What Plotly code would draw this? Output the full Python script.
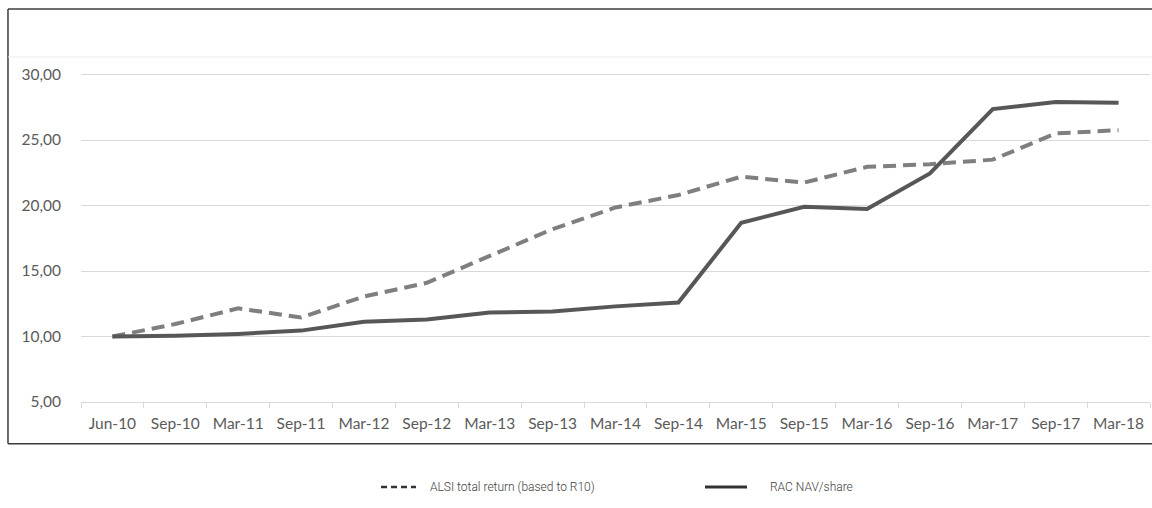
import plotly.graph_objects as go

# Quarter-end labels and index values (base R10)
periods = ["Jun-10", "Sep-10", "Mar-11", "Sep-11", "Mar-12", "Sep-12", "Mar-13",
           "Sep-13", "Mar-14", "Sep-14", "Mar-15", "Sep-15", "Mar-16", "Sep-16",
           "Mar-17", "Sep-17", "Mar-18"]
alsi_total_return = [10.00, 10.95, 12.15, 11.45, 13.05, 14.10, 16.15, 18.20, 19.85,
                     20.80, 22.20, 21.75, 22.95, 23.15, 23.50, 25.50, 25.75]
rac_nav_share = [10.00, 10.05, 10.20, 10.45, 11.12, 11.30, 11.83, 11.90, 12.30,
                 12.60, 18.68, 19.90, 19.73, 22.45, 27.36, 27.90, 27.84]

y_ticks = [5, 10, 15, 20, 25, 30]

legend_names = ["ALSI total return (based to R10)", "RAC NAV/share"]

fig = go.Figure()
fig.add_trace(go.Scatter(
    x=periods, y=alsi_total_return, mode="lines", name=legend_names[0],
    line=dict(color="#7f7f7f", width=4, dash="13px,7px"),
    showlegend=False,
))
fig.add_trace(go.Scatter(
    x=periods, y=rac_nav_share, mode="lines", name=legend_names[1],
    line=dict(color="#575757", width=4),
    showlegend=False,
))

axis_font = dict(family="Lato, Carlito, sans-serif", size=15.5, color="#5a5a5a")

fig.update_layout(
    width=1152, height=508,
    margin=dict(l=81, r=2, t=9, b=106),
    paper_bgcolor="white", plot_bgcolor="white",
    separators=",.",
    xaxis=dict(
        type="category", tickson="boundaries", ticks="outside", ticklen=5,
        tickcolor="#d9d9d9", showline=True, linecolor="#d9d9d9", linewidth=1,
        showgrid=False, tickfont=axis_font, ticklabelstandoff=7,
        range=[-0.5, len(periods) - 0.5], fixedrange=True,
    ),
    yaxis=dict(
        range=[5, 35], tickvals=y_ticks, tickformat=".2f",
        showgrid=True, gridcolor="#d9d9d9", gridwidth=1, zeroline=False,
        showline=False, ticks="", tickfont=axis_font, ticklabelstandoff=19,
        fixedrange=True,
    ),
)

# Outer frame around the chart (left, top and bottom edges)
frame = dict(color="#3c3c3c", width=1.5)
x_left, x_right, y_top, y_bot = -0.0683, 1.003, 1.0, -0.106
fig.add_shape(type="line", xref="paper", yref="paper", x0=x_left, x1=x_right,
              y0=y_top, y1=y_top, line=frame)
fig.add_shape(type="line", xref="paper", yref="paper", x0=x_left, x1=x_right,
              y0=y_bot, y1=y_bot, line=frame)
fig.add_shape(type="line", xref="paper", yref="paper", x0=x_left, x1=x_left,
              y0=y_bot, y1=y_top, line=frame)
# faint inner plot-area edge
fig.add_shape(type="line", xref="paper", yref="paper", x0=x_left, x1=x_right,
              y0=0.878, y1=0.878, line=dict(color="#ececec", width=1))

# Legend below the frame
legend_y = (402 - 487) / 393
legend_font = dict(family="Roboto, Liberation Sans, sans-serif", size=12,
                   color="#404040", weight=300)
fig.add_shape(type="line", xref="paper", yref="paper",
              x0=(381 - 81) / 1069, x1=(416 - 81) / 1069, y0=legend_y, y1=legend_y,
              line=dict(color="#333333", width=2.5, dash="6px,4px"))
fig.add_annotation(xref="paper", yref="paper", x=(428 - 81) / 1069, y=legend_y,
                   text=legend_names[0], showarrow=False, xanchor="left",
                   yanchor="middle", font=legend_font)
fig.add_shape(type="line", xref="paper", yref="paper",
              x0=(705 - 81) / 1069, x1=(747 - 81) / 1069, y0=legend_y, y1=legend_y,
              line=dict(color="#333333", width=3))
fig.add_annotation(xref="paper", yref="paper", x=(768 - 81) / 1069, y=legend_y,
                   text=legend_names[1], showarrow=False, xanchor="left",
                   yanchor="middle", font=legend_font)

fig.write_html("out.html")
